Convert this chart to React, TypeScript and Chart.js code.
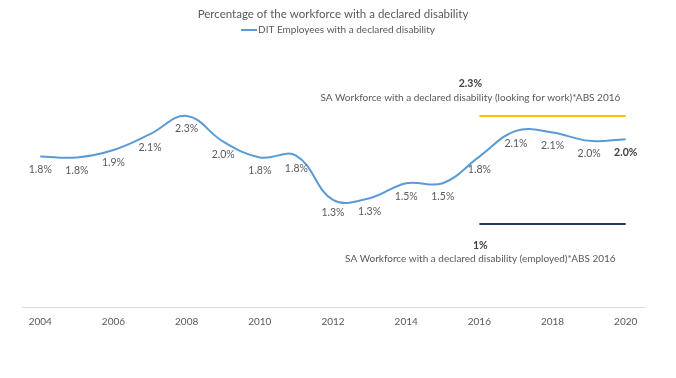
import React, { useEffect, useRef } from "react";
import { Chart, registerables } from "chart.js";

Chart.register(...registerables);

const years = ["2004","2005","2006","2007","2008","2009","2010","2011","2012","2013","2014","2015","2016","2017","2018","2019","2020"];
const ditValues = [1.81, 1.8, 1.89, 2.08, 2.3, 1.99, 1.8, 1.82, 1.29, 1.31, 1.49, 1.49, 1.81, 2.12, 2.1, 2.0, 2.02];
const lookingForWork = [null, null, null, null, null, null, null, null, null, null, null, null, 2.3, 2.3, 2.3, 2.3, 2.3];
const employed = [null, null, null, null, null, null, null, null, null, null, null, null, 1.0, 1.0, 1.0, 1.0, 1.0];

const titleText = "Percentage of the workforce with a declared disability";
const ditName = "DIT Employees with a declared disability";
const lookingName = "SA Workforce with a declared disability (looking for work)*ABS 2016";
const employedName = "SA Workforce with a declared disability (employed)*ABS 2016";
const lookingLabel = "2.3%";
const employedLabel = "1%";

const FONT = "Lato, 'Open Sans', sans-serif";
const GREY = "#595959";
const BLUE = "#5B9BD5";

const labelPlugin = {
  id: "labelPlugin",
  afterDraw(chart: any) {
    const ctx = chart.ctx;
    const xs = chart.scales.x;
    const ys = chart.scales.y;
    ctx.save();
    ctx.textAlign = "center";
    ctx.textBaseline = "middle";
    const meta = chart.getDatasetMeta(0);
    meta.data.forEach((pt: any, i: number) => {
      const last = i === ditValues.length - 1;
      ctx.font = `${last ? "bold " : ""}10.5px ${FONT}`;
      ctx.fillStyle = last ? "#404040" : GREY;
      ctx.fillText(ditValues[i].toFixed(1) + "%", pt.x, pt.y + 13);
    });
    const x12 = xs.getPixelForValue(12);
    const yl = ys.getPixelForValue(2.3);
    const ye = ys.getPixelForValue(1.0);
    ctx.fillStyle = "#404040";
    ctx.font = `bold 10.5px ${FONT}`;
    ctx.fillText(lookingLabel, x12 - 9, yl - 32);
    ctx.fillText(employedLabel, x12 + 1, ye + 22);
    ctx.fillStyle = GREY;
    ctx.font = `10px ${FONT}`;
    ctx.fillText(lookingName, x12 - 9, yl - 18);
    ctx.fillText(employedName, x12 + 1, ye + 35);

    // legend
    const cx = chart.width / 2;
    ctx.font = `10px ${FONT}`;
    const tw = ctx.measureText(ditName).width;
    const sw = 16;
    const gap = 1;
    const total = sw + gap + tw;
    const lx = cx - total / 2;
    const ly = 30;
    ctx.strokeStyle = BLUE;
    ctx.lineWidth = 2;
    ctx.beginPath();
    ctx.moveTo(lx, ly);
    ctx.lineTo(lx + sw, ly);
    ctx.stroke();
    ctx.textAlign = "left";
    ctx.fillStyle = GREY;
    ctx.fillText(ditName, lx + sw + gap, ly);
    ctx.restore();
  },
};

export default function App() {
  const ref = useRef<HTMLCanvasElement>(null);
  useEffect(() => {
    document.body.style.margin = "0";
    const chart = new Chart(ref.current!, {
      type: "line",
      data: {
        labels: years,
        datasets: [
          {
            label: ditName,
            data: ditValues,
            borderColor: BLUE,
            backgroundColor: BLUE,
            borderWidth: 2,
            pointRadius: 0,
            tension: 0.4,
          },
          {
            label: lookingName,
            data: lookingForWork,
            borderColor: "#FFC000",
            backgroundColor: "#FFC000",
            borderWidth: 2,
            pointRadius: 0,
            tension: 0,
          },
          {
            label: employedName,
            data: employed,
            borderColor: "#1F3864",
            backgroundColor: "#1F3864",
            borderWidth: 2,
            pointRadius: 0,
            tension: 0,
          },
        ],
      },
      options: {
        animation: false,
        responsive: false,
        layout: { padding: { left: 22, right: 32, top: 0, bottom: 41 } },
        plugins: {
          title: {
            display: true,
            text: titleText,
            color: GREY,
            font: { family: FONT, size: 11.5, weight: "normal" },
            padding: { top: 7, bottom: 12 },
          },
          legend: { display: false },
          tooltip: { enabled: false },
        },
        scales: {
          x: {
            offset: true,
            grid: { display: false, drawTicks: false },
            border: { display: true, color: "#D9D9D9", width: 1 },
            ticks: {
              autoSkip: false,
              maxRotation: 0,
              color: GREY,
              font: { family: FONT, size: 10 },
              padding: 9,
              callback: (v: any, i: number) => (i % 2 === 0 ? years[i] : ""),
            },
          },
          y: {
            display: false,
            min: 0,
            max: 3.3,
          },
        },
      },
      plugins: [labelPlugin],
    });
    return () => chart.destroy();
  }, []);
  return <canvas ref={ref} width={676} height={378} style={{ display: "block" }} />;
}
